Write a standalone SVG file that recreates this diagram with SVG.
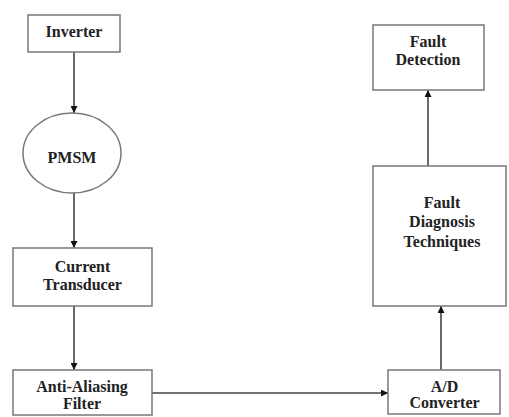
<svg xmlns="http://www.w3.org/2000/svg" width="509" height="417" viewBox="0 0 509 417">
<style>
.box{fill:#fff;stroke:#777;stroke-width:1.5}
.c{stroke:#444;stroke-width:1.6;fill:none;marker-end:url(#ah)}
</style>
<defs>
<marker id="ah" viewBox="0 0 10 10" refX="10" refY="5" markerWidth="7" markerHeight="7" markerUnits="userSpaceOnUse" orient="auto">
<path d="M0,0 L10,5 L0,10 Z" fill="#111"/>
</marker>
</defs>
<rect width="509" height="417" fill="#fff"/>
<g id="connectors">
<line class="c" x1="74" y1="52" x2="74" y2="113"/>
<line class="c" x1="74" y1="193" x2="74" y2="248"/>
<line class="c" x1="74" y1="306" x2="74" y2="370"/>
<line class="c" x1="152" y1="393" x2="388" y2="393"/>
<line class="c" x1="441" y1="370" x2="441" y2="306"/>
<line class="c" x1="428" y1="166" x2="428" y2="90"/>
</g>
<g id="inverter">
<rect class="box" x="28" y="15" width="92" height="37"/>
<text font-family="Liberation Serif" font-weight="bold" font-size="16" fill="#222" text-anchor="middle" x="74" y="37">Inverter</text>
</g>
<g id="pmsm">
<ellipse class="box" cx="72" cy="153" rx="49" ry="40"/>
<text font-family="Liberation Serif" font-weight="bold" font-size="16" fill="#222" text-anchor="middle" x="72" y="163">PMSM</text>
</g>
<g id="current-transducer">
<rect class="box" x="13" y="248" width="139" height="58"/>
<text font-family="Liberation Serif" font-weight="bold" font-size="16" fill="#222" text-anchor="middle" x="82.5" y="272">Current</text>
<text font-family="Liberation Serif" font-weight="bold" font-size="16" fill="#222" text-anchor="middle" x="82.5" y="290">Transducer</text>
</g>
<g id="anti-aliasing-filter">
<rect class="box" x="13" y="370" width="139" height="45"/>
<text font-family="Liberation Serif" font-weight="bold" font-size="16" fill="#222" text-anchor="middle" x="82" y="392">Anti-Aliasing</text>
<text font-family="Liberation Serif" font-weight="bold" font-size="16" fill="#222" text-anchor="middle" x="82" y="409">Filter</text>
</g>
<g id="ad-converter">
<rect class="box" x="388" y="370" width="112" height="44"/>
<text font-family="Liberation Serif" font-weight="bold" font-size="16" fill="#222" text-anchor="middle" x="444.5" y="392">A/D</text>
<text font-family="Liberation Serif" font-weight="bold" font-size="16" fill="#222" text-anchor="middle" x="444.5" y="408">Converter</text>
</g>
<g id="fault-diagnosis">
<rect class="box" x="373" y="166" width="133" height="140"/>
<text font-family="Liberation Serif" font-weight="bold" font-size="16" fill="#222" text-anchor="middle" x="442" y="208">Fault</text>
<text font-family="Liberation Serif" font-weight="bold" font-size="16" fill="#222" text-anchor="middle" x="442" y="227">Diagnosis</text>
<text font-family="Liberation Serif" font-weight="bold" font-size="16" fill="#222" text-anchor="middle" x="442" y="247">Techniques</text>
</g>
<g id="fault-detection">
<rect class="box" x="373" y="25" width="111" height="65"/>
<text font-family="Liberation Serif" font-weight="bold" font-size="16" fill="#222" text-anchor="middle" x="428" y="47">Fault</text>
<text font-family="Liberation Serif" font-weight="bold" font-size="16" fill="#222" text-anchor="middle" x="428" y="65">Detection</text>
</g>
</svg>
